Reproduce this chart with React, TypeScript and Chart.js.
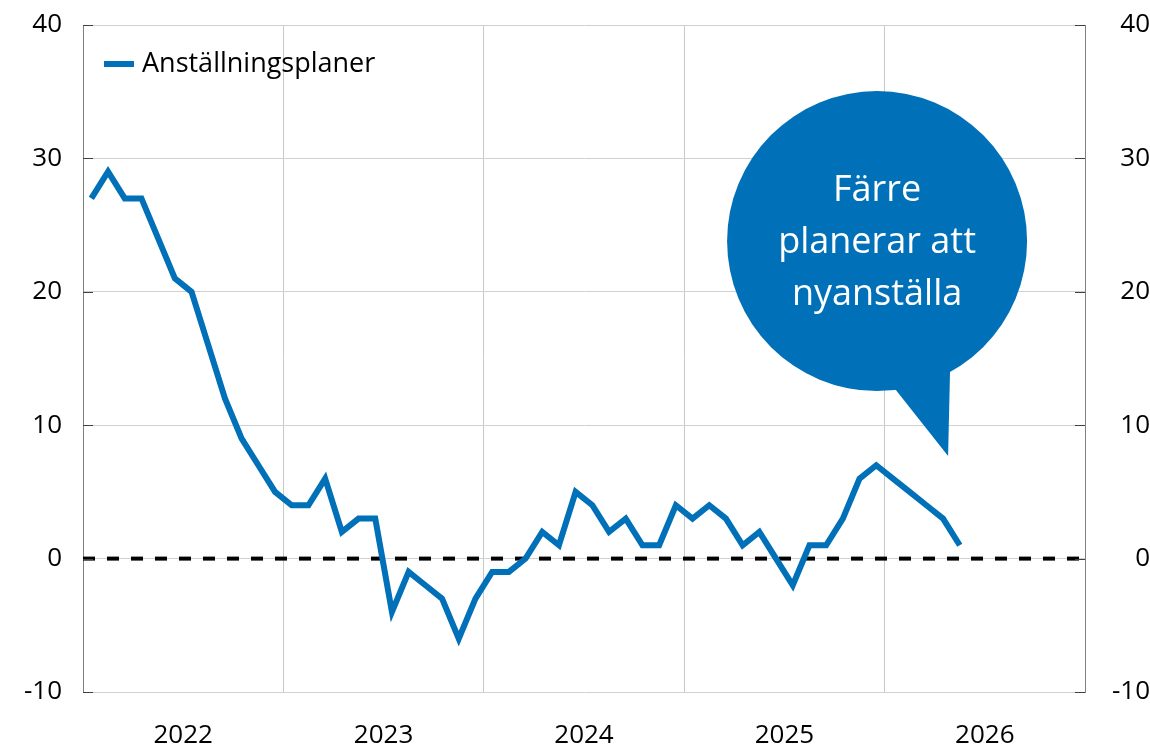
import React, { useEffect, useRef } from "react";
import { Chart, registerables } from "chart.js";

Chart.register(...registerables);

const startYear = 2022;
const yearLabels = ["2022", "2023", "2024", "2025", "2026"];
const seriesName = "Anställningsplaner";
// Monthly values, Jan 2022 – May 2026
const hiringPlans = [
  27, 29, 27, 27, 24, 21, 20, 16, 12, 9, 7, 5,
  4, 4, 6, 2, 3, 3, -4, -1, -2, -3, -6, -3,
  -1, -1, 0, 2, 1, 5, 4, 2, 3, 1, 1, 4,
  3, 4, 3, 1, 2, 0, -2, 1, 1, 3, 6, 7,
  6, 5, 4, 3, 1,
];
const yTicks = [-10, 0, 10, 20, 30, 40];
const bubbleLines = ["Färre", "planerar att", "nyanställa"];
const bubbleAnchor = { x: 47.55, y: 23.8 }; // in data units (months, value)

const BLUE = "#0070b8";
const FONT = "'Open Sans', 'DejaVu Sans', sans-serif";

export default function App() {
  const ref = useRef<HTMLCanvasElement | null>(null);

  useEffect(() => {
    document.body.style.margin = "0";
    const canvas = ref.current;
    if (!canvas) return;

    const extras = {
      id: "extras",
      afterDatasetsDraw(chart: any) {
        const { ctx, chartArea, scales } = chart;
        const ys = scales.y;
        const xs = scales.x;
        ctx.save();
        // inward tick marks on both y axes
        ctx.strokeStyle = "#404040";
        ctx.lineWidth = 1;
        yTicks.forEach((v) => {
          const y = Math.round(ys.getPixelForValue(v)) + 0.5;
          ctx.beginPath();
          ctx.moveTo(chartArea.left, y);
          ctx.lineTo(chartArea.left + 10, y);
          ctx.moveTo(chartArea.right - 10, y);
          ctx.lineTo(chartArea.right, y);
          ctx.stroke();
        });
        // legend
        ctx.strokeStyle = BLUE;
        ctx.lineWidth = 6;
        ctx.beginPath();
        ctx.moveTo(chartArea.left + 21, 64);
        ctx.lineTo(chartArea.left + 51, 64);
        ctx.stroke();
        ctx.fillStyle = "#000";
        ctx.font = `27px ${FONT}`;
        ctx.textAlign = "left";
        ctx.textBaseline = "middle";
        ctx.fillText(seriesName, chartArea.left + 59, 64);

        // speech bubble
        const cx = xs.getPixelForValue(bubbleAnchor.x);
        const cy = ys.getPixelForValue(bubbleAnchor.y);
        const r = 150;
        ctx.fillStyle = BLUE;
        ctx.beginPath();
        ctx.arc(cx, cy, r, 0, Math.PI * 2);
        ctx.fill();
        ctx.beginPath();
        ctx.moveTo(cx + 18, cy + r - 2);
        ctx.lineTo(cx + 71, cy + 215);
        ctx.lineTo(cx + 73, cy + 128);
        ctx.closePath();
        ctx.fill();
        ctx.fillStyle = "#fff";
        ctx.font = `36px ${FONT}`;
        ctx.textAlign = "center";
        ctx.textBaseline = "alphabetic";
        bubbleLines.forEach((t, i) => {
          ctx.fillText(t, cx, cy - 40 + i * 52);
        });
        ctx.restore();
      },
    };

    const fitY = (w: number) => (scale: any) => {
      scale.width = w;
      scale.paddingTop = 0;
      scale.paddingBottom = 0;
    };

    const chart = new Chart(canvas, {
      type: "line",
      data: {
        datasets: [
          {
            label: seriesName,
            data: hiringPlans.map((v, i) => ({ x: i + 0.5, y: v })),
            borderColor: BLUE,
            borderWidth: 6,
            pointRadius: 0,
            borderJoinStyle: "miter",
            tension: 0,
            yAxisID: "y",
          },
          {
            label: "zero",
            data: [
              { x: 0, y: 0 },
              { x: yearLabels.length * 12, y: 0 },
            ],
            borderColor: "#000",
            borderWidth: 4,
            borderDash: [12, 12],
            pointRadius: 0,
            yAxisID: "y",
            order: 2,
          },
        ],
      },
      options: {
        responsive: false,
        animation: false,
        layout: { padding: { top: 25, left: 0, right: 0, bottom: 0 } },
        plugins: {
          legend: { display: false },
          tooltip: { enabled: false },
        },
        scales: {
          x: {
            type: "linear",
            min: 0,
            max: yearLabels.length * 12,
            afterFit(scale: any) {
              scale.height = 52;
              scale.paddingLeft = 0;
              scale.paddingRight = 0;
            },
            afterBuildTicks(scale: any) {
              const t = [];
              for (let v = 0; v <= yearLabels.length * 12; v += 6) t.push({ value: v });
              scale.ticks = t;
            },
            ticks: {
              autoSkip: false,
              maxRotation: 0,
              padding: 28,
              color: "#000",
              font: { size: 26, family: FONT },
              callback: (value: any) => {
                const v = Number(value);
                if (v % 12 === 6) return String(startYear + (v - 6) / 12);
                return "";
              },
            },
            grid: {
              drawTicks: false,
              color: (ctx: any) => {
                const v = ctx.tick ? ctx.tick.value : -1;
                return v % 12 === 0 && v > 0 && v < yearLabels.length * 12 ? "#c8c8c8" : "rgba(0,0,0,0)";
              },
            },
            border: { display: false },
          },
          y: {
            position: "left",
            min: -10,
            max: 40,
            afterFit: fitY(83),
            ticks: {
              stepSize: 10,
              padding: 21,
              color: "#000",
              font: { size: 26, family: FONT },
            },
            grid: { drawTicks: false, color: "#d0d0d0" },
            border: { display: true, color: "#808080", width: 1 },
          },
          y2: {
            position: "right",
            min: -10,
            max: 40,
            afterFit: fitY(65),
            ticks: {
              stepSize: 10,
              padding: 24,
              crossAlign: "far",
              color: "#000",
              font: { size: 26, family: FONT },
            },
            grid: { display: false, drawTicks: false },
            border: { display: true, color: "#808080", width: 1 },
          },
        },
      },
      plugins: [extras],
    } as any);

    return () => chart.destroy();
  }, []);

  return (
    <div style={{ position: "fixed", left: 0, top: 0, width: 1150, height: 744, background: "#fff" }}>
      <canvas ref={ref} width={1150} height={744} style={{ width: 1150, height: 744 }} />
    </div>
  );
}
